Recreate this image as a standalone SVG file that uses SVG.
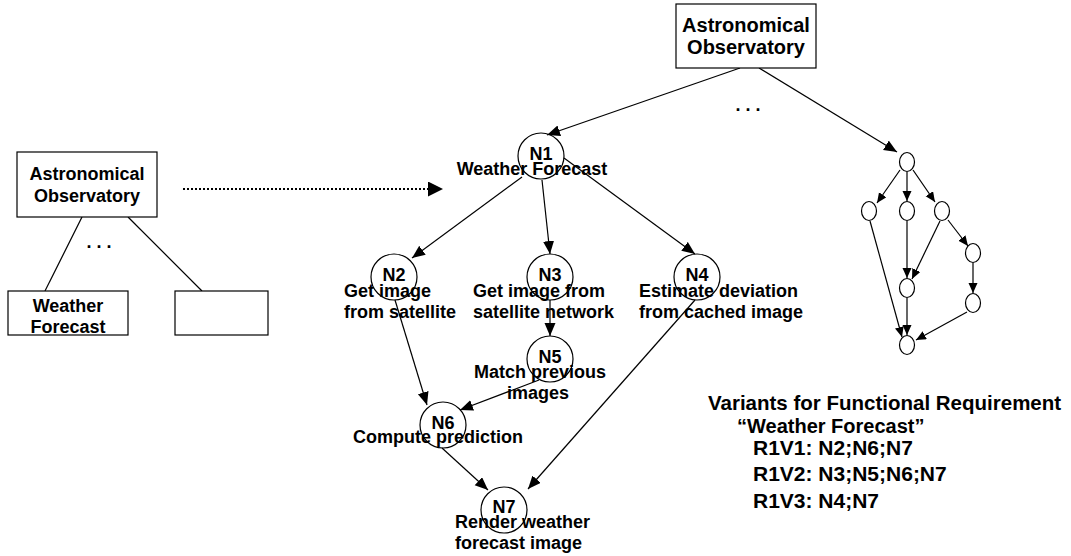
<svg xmlns="http://www.w3.org/2000/svg" width="1071" height="556" viewBox="0 0 1071 556">
  <style>
    text { font-family: "Liberation Sans", Arial, sans-serif; font-weight: bold; fill: #000; }
    .lbl { font-size: 18px; }
    .box { fill: #fff; stroke: #000; stroke-width: 1.2; }
    .node { fill: none; stroke: #000; stroke-width: 1.2; }
    .edge { fill: none; stroke: #000; stroke-width: 1.2; }
    .arr { marker-end: url(#ah); }
    .sarr { marker-end: url(#ahs); }
  </style>
  <defs>
    <marker id="ah" markerUnits="userSpaceOnUse" markerWidth="14" markerHeight="12" refX="13" refY="5.5" orient="auto">
      <path d="M0,0 L13,5.5 L0,11 z" fill="#000"/>
    </marker>
    <marker id="ahs" markerUnits="userSpaceOnUse" markerWidth="11" markerHeight="10" refX="10" refY="4.5" orient="auto">
      <path d="M0,0 L10,4.5 L0,9 z" fill="#000"/>
    </marker>
    <marker id="ahd" markerUnits="userSpaceOnUse" markerWidth="16" markerHeight="16" refX="15" refY="7.5" orient="auto">
      <path d="M0,0 L15,7.5 L0,15 z" fill="#000"/>
    </marker>
  </defs>

  <!-- connectors -->
  <g id="connectors">
    <!-- left hierarchy -->
    <line class="edge" x1="82" y1="217" x2="45" y2="291"/>
    <line class="edge" x1="128" y1="217" x2="202" y2="291"/>
    <!-- refinement arrow -->
    <line x1="183" y1="189" x2="443" y2="189" stroke="#000" stroke-width="2" stroke-dasharray="2 2" marker-end="url(#ahd)"/>
    <!-- observatory to its requirements -->
    <line class="edge arr" x1="740" y1="68" x2="547" y2="135"/>
    <line class="edge arr" x1="759" y1="68" x2="897" y2="152"/>
    <!-- weather forecast graph -->
    <line class="edge arr" x1="522" y1="177" x2="412" y2="258"/>
    <line class="edge arr" x1="542" y1="180" x2="550" y2="254"/>
    <line class="edge arr" x1="564" y1="158" x2="695" y2="254"/>
    <line class="edge arr" x1="550" y1="300" x2="550" y2="336"/>
    <line class="edge arr" x1="395" y1="300" x2="427" y2="405"/>
    <line class="edge arr" x1="539" y1="380" x2="460" y2="410"/>
    <line class="edge arr" x1="442" y1="448" x2="488" y2="490"/>
    <line class="edge arr" x1="695" y1="300" x2="528" y2="489"/>
    <!-- second requirement graph -->
    <line class="edge sarr" x1="900" y1="170" x2="877" y2="203"/>
    <line class="edge sarr" x1="907" y1="172" x2="907" y2="201"/>
    <line class="edge sarr" x1="913" y1="170" x2="935" y2="202"/>
    <line class="edge sarr" x1="870" y1="221" x2="902" y2="337"/>
    <line class="edge sarr" x1="907" y1="221" x2="907" y2="278"/>
    <line class="edge sarr" x1="940" y1="221" x2="912" y2="279"/>
    <line class="edge sarr" x1="948" y1="220" x2="968" y2="246"/>
    <line class="edge sarr" x1="973" y1="263" x2="973" y2="293"/>
    <line class="edge sarr" x1="907" y1="298" x2="907" y2="335"/>
    <line class="edge sarr" x1="967" y1="312" x2="916" y2="340"/>
  </g>

  <!-- left hierarchy nodes -->
  <g id="obs-left">
    <rect class="box" x="17" y="152" width="140" height="65"/>
    <text class="lbl" x="87" y="180" text-anchor="middle">Astronomical</text>
    <text class="lbl" x="87" y="202" text-anchor="middle">Observatory</text>
  </g>
  <g id="req-weather">
    <rect class="box" x="8" y="291" width="120" height="44"/>
    <text class="lbl" x="68" y="312" text-anchor="middle">Weather</text>
    <text class="lbl" x="68" y="333" text-anchor="middle">Forecast</text>
  </g>
  <g id="req-other">
    <rect class="box" x="175" y="291" width="93" height="44"/>
  </g>
  <text class="lbl" x="99" y="248" text-anchor="middle">. . .</text>

  <!-- top observatory -->
  <g id="obs-top">
    <rect class="box" x="676" y="4" width="140" height="64"/>
    <text x="746" y="32" text-anchor="middle" font-size="20">Astronomical</text>
    <text x="746" y="54" text-anchor="middle" font-size="20">Observatory</text>
  </g>
  <text class="lbl" x="748" y="111" text-anchor="middle">. . .</text>

  <!-- weather forecast requirement graph -->
  <g id="N1">
    <circle class="node" cx="541" cy="156" r="23"/>
    <text class="lbl" x="541" y="160" text-anchor="middle">N1</text>
    <text class="lbl" x="532" y="175" text-anchor="middle">Weather Forecast</text>
  </g>
  <g id="N2">
    <circle class="node" cx="394" cy="277" r="23"/>
    <text class="lbl" x="394" y="281" text-anchor="middle">N2</text>
    <text class="lbl" x="344" y="297">Get image</text>
    <text class="lbl" x="344" y="318">from satellite</text>
  </g>
  <g id="N3">
    <circle class="node" cx="550" cy="277" r="23"/>
    <text class="lbl" x="550" y="281" text-anchor="middle">N3</text>
    <text class="lbl" x="473" y="297">Get image from</text>
    <text class="lbl" x="473" y="318">satellite network</text>
  </g>
  <g id="N4">
    <circle class="node" cx="697" cy="277" r="23"/>
    <text class="lbl" x="697" y="281" text-anchor="middle">N4</text>
    <text class="lbl" x="639" y="297">Estimate deviation</text>
    <text class="lbl" x="639" y="318">from cached image</text>
  </g>
  <g id="N5">
    <circle class="node" cx="550" cy="359" r="23"/>
    <text class="lbl" x="550" y="363" text-anchor="middle">N5</text>
    <text class="lbl" x="540" y="378" text-anchor="middle">Match previous</text>
    <text class="lbl" x="538" y="399" text-anchor="middle">images</text>
  </g>
  <g id="N6">
    <circle class="node" cx="443" cy="425" r="23"/>
    <text class="lbl" x="443" y="429" text-anchor="middle">N6</text>
    <text class="lbl" x="353" y="443">Compute prediction</text>
  </g>
  <g id="N7">
    <circle class="node" cx="504" cy="510" r="23"/>
    <text class="lbl" x="504" y="513" text-anchor="middle">N7</text>
    <text class="lbl" x="455" y="528">Render weather</text>
    <text class="lbl" x="455" y="549">forecast image</text>
  </g>

  <!-- second requirement graph -->
  <g id="r2-graph">
    <ellipse class="node" cx="907" cy="162" rx="7.5" ry="9.5"/>
    <ellipse class="node" cx="869" cy="211" rx="7.5" ry="9.5"/>
    <ellipse class="node" cx="907" cy="211" rx="7.5" ry="9.5"/>
    <ellipse class="node" cx="942" cy="211" rx="7.5" ry="9.5"/>
    <ellipse class="node" cx="973" cy="253" rx="7.5" ry="9.5"/>
    <ellipse class="node" cx="907" cy="288" rx="7.5" ry="9.5"/>
    <ellipse class="node" cx="973" cy="303" rx="7.5" ry="9.5"/>
    <ellipse class="node" cx="907" cy="345" rx="7.5" ry="9.5"/>
  </g>

  <!-- variants list -->
  <g id="variants">
    <text x="708" y="410" font-size="20.5">Variants for Functional Requirement</text>
    <text x="737" y="433" font-size="20">“Weather Forecast”</text>
    <text x="753" y="455" font-size="21">R1V1: N2;N6;N7</text>
    <text x="753" y="481" font-size="21">R1V2: N3;N5;N6;N7</text>
    <text x="753" y="508" font-size="21">R1V3: N4;N7</text>
  </g>
</svg>
